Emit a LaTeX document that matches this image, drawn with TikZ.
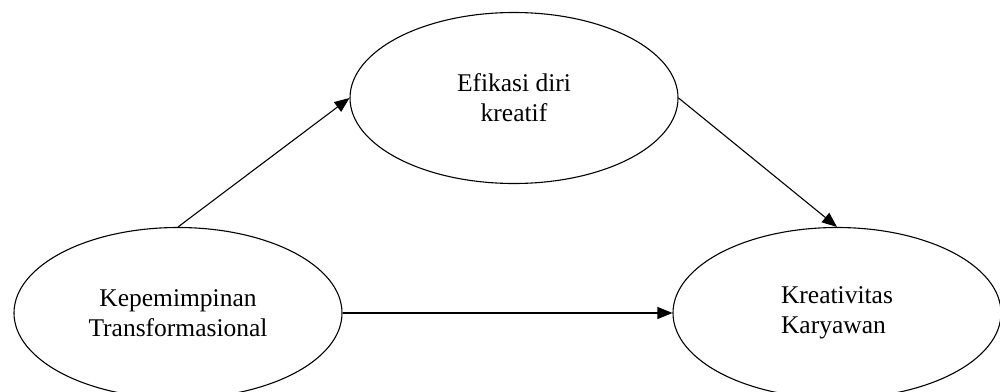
\documentclass[tikz,border=0pt]{standalone}
\usepackage{fontspec}
\setmainfont{Liberation Serif}
\usetikzlibrary{shapes.geometric,arrows.meta}
\begin{document}
\begin{tikzpicture}[x=1pt,y=-1pt,
  var/.style={draw,ellipse,line width=1.1pt,minimum width=328pt,minimum height=171pt,inner sep=0pt,
    font=\fontsize{25.5}{30}\selectfont},
  link/.style={line width=1.1pt,-{Triangle[length=15pt,width=12pt]}}]
\useasboundingbox (0,0) rectangle (1000,391);
\node[var,align=center] (efi) at (514,98) {Efikasi diri\\kreatif};
\node[var,align=center] (kep) at (178,313) {Kepemimpinan\\Transformasional};
\node[var,align=left] (kre) at (837,313) {Kreativitas\\Karyawan};
\draw[link] (kep.north) -- (efi.west);
\draw[link] (efi.east) -- (kre.north);
\draw[link] (kep.east) -- (kre.west);
\end{tikzpicture}
\end{document}
